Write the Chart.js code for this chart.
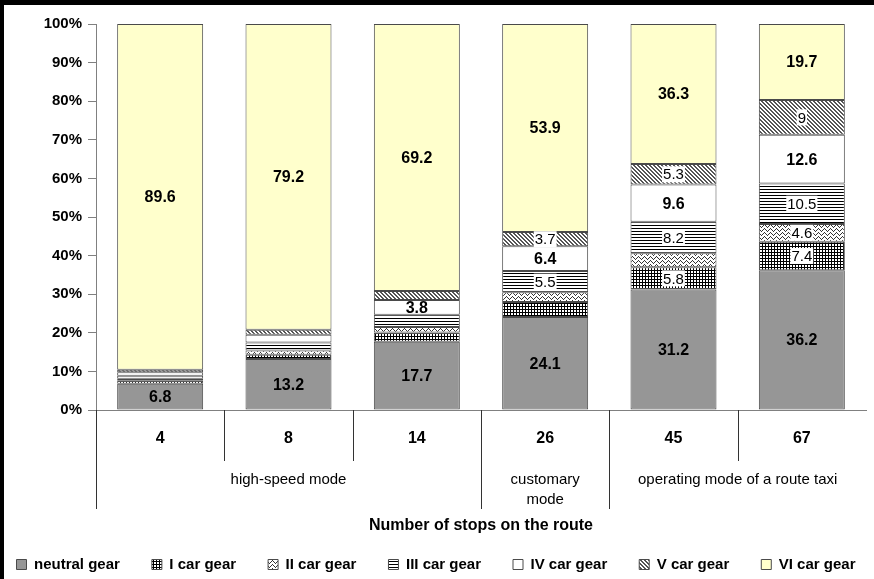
<!DOCTYPE html>
<html>
<head>
<meta charset="utf-8">
<script src="https://cdn.jsdelivr.net/npm/chart.js@4.4.1/dist/chart.umd.min.js"></script>
<style>
html, body { margin: 0; padding: 0; background: #fff; }
#wrap { position: relative; width: 874px; height: 579px; }
#frame { position: absolute; left: 0; top: 0; right: 0; bottom: 0; border-left: 4px solid #000; border-top: 5px solid #000; pointer-events: none; }
</style>
</head>
<body>
<div id="wrap"><canvas id="myChart" width="874" height="579"></canvas><div id="frame"></div></div>
<script>
// categories
let stops = ['4', '8', '14', '26', '45', '67'];
let groupNames = ['high-speed mode', ['customary', 'mode'], 'operating mode of a route taxi'];
let groupStarts = [0, 3, 4];
let groupEnds = [2, 3, 5];

// shares of time in each gear, %
let neutralGear = [6.8, 13.2, 17.7, 24.1, 31.2, 36.2];
let gearI = [0.8, 1.1, 2.4, 3.9, 5.8, 7.4];
let gearII = [0.5, 1.1, 1.4, 2.5, 3.6, 4.6];
let gearIII = [0.8, 2.1, 3.2, 5.5, 8.2, 10.5];
let gearIV = [0.9, 2.0, 3.8, 6.4, 9.6, 12.6];
let gearV = [0.6, 1.3, 2.3, 3.7, 5.3, 9];
let gearVI = [89.6, 79.2, 69.2, 53.9, 36.3, 19.7];

// which values carry a label on the bar
let labelNeutral = [1, 1, 1, 1, 1, 1];
let labelI = [0, 0, 0, 0, 1, 1];
let labelII = [0, 0, 0, 0, 0, 1];
let labelIII = [0, 0, 0, 1, 1, 1];
let labelIV = [0, 0, 1, 1, 1, 1];
let labelV = [0, 0, 0, 1, 1, 1];
let labelVI = [1, 1, 1, 1, 1, 1];

let myChart = document.getElementById('myChart').getContext('2d');

const narrow = "'Liberation Sans Narrow', 'Liberation Sans', Arial, sans-serif";
const arial = "'Liberation Sans', Arial, sans-serif";

function makePattern(w, h, color, draw) {
    const c = document.createElement('canvas');
    c.width = w;
    c.height = h;
    const g = c.getContext('2d');
    g.fillStyle = '#fff';
    g.fillRect(0, 0, w, h);
    g.fillStyle = color;
    draw(g);
    return myChart.createPattern(c, 'repeat');
}

const gridPattern = makePattern(3, 3, '#000', g => {
    g.fillRect(0, 0, 3, 1);
    g.fillRect(0, 0, 1, 3);
});
const zigzagPattern = makePattern(6, 4, '#333', g => {
    [[0, 2], [1, 1], [2, 0], [3, 1], [4, 2], [5, 3]].forEach(p => g.fillRect(p[0], p[1], 1, 1));
});
const linesPattern = makePattern(1, 3, '#000', g => {
    g.fillRect(0, 0, 1, 1);
});
const diagPattern = makePattern(4, 4, '#555', g => {
    for (let i = 0; i < 4; i++) {
        g.fillRect(i, i, 1, 1);
        g.fillRect((i + 1) % 4, i, 1, 1);
    }
});

function series(label, data, fill, labels, bold) {
    return {
        label: label,
        data: data,
        backgroundColor: fill,
        borderColor: '#4a4a4a',
        borderWidth: 1,
        borderSkipped: false,
        showLabel: labels,
        boldLabel: bold
    };
}

// value labels in the middle of each segment
const barLabels = {
    id: 'barLabels',
    afterDatasetsDraw(chart) {
        const ctx = chart.ctx;
        ctx.save();
        ctx.textAlign = 'center';
        ctx.textBaseline = 'middle';
        chart.data.datasets.forEach((ds, di) => {
            const meta = chart.getDatasetMeta(di);
            meta.data.forEach((bar, i) => {
                if (!ds.showLabel[i]) return;
                const text = String(ds.data[i]);
                const y = (bar.y + bar.base) / 2;
                if (ds.boldLabel) {
                    ctx.font = 'bold 16px ' + arial;
                } else {
                    ctx.font = '15px ' + arial;
                    const w = ctx.measureText(text).width;
                    ctx.fillStyle = '#fff';
                    ctx.fillRect(bar.x - w / 2 - 1, y - 8, w + 2, 16);
                }
                ctx.fillStyle = '#000';
                ctx.fillText(text, bar.x, y + 1);
            });
        });
        ctx.restore();
    }
};

// category separators and the mode groups under the stop numbers
const groupAxis = {
    id: 'groupAxis',
    afterDraw(chart) {
        const ctx = chart.ctx;
        const x = chart.scales.x;
        const bottom = chart.chartArea.bottom;
        const half = (x.getPixelForValue(1) - x.getPixelForValue(0)) / 2;
        ctx.save();
        ctx.strokeStyle = '#333';
        ctx.lineWidth = 1;
        for (let i = 0; i < stops.length; i++) {
            const left = Math.round(x.getPixelForValue(i) - half) + 0.5;
            const deep = groupStarts.includes(i);
            ctx.beginPath();
            ctx.moveTo(left, bottom);
            ctx.lineTo(left, bottom + (deep ? 99 : 51));
            ctx.stroke();
        }
        ctx.fillStyle = '#000';
        ctx.font = '15px ' + narrow;
        ctx.textAlign = 'center';
        ctx.textBaseline = 'middle';
        groupNames.forEach((name, k) => {
            const cx = (x.getPixelForValue(groupStarts[k]) + x.getPixelForValue(groupEnds[k])) / 2;
            const lines = Array.isArray(name) ? name : [name];
            lines.forEach((t, j) => ctx.fillText(t, cx, bottom + 70 + j * 20));
        });
        ctx.restore();
    }
};

new Chart(myChart, {
    type: 'bar',
    data: {
        labels: stops,
        datasets: [
            series('neutral gear', neutralGear, '#969696', labelNeutral, true),
            series('I car gear', gearI, gridPattern, labelI, false),
            series('II car gear', gearII, zigzagPattern, labelII, false),
            series('III car gear', gearIII, linesPattern, labelIII, false),
            series('IV car gear', gearIV, '#ffffff', labelIV, true),
            series('V car gear', gearV, diagPattern, labelV, false),
            series('VI car gear', gearVI, '#ffffcc', labelVI, true)
        ]
    },
    options: {
        responsive: false,
        animation: false,
        layout: { padding: { left: 6, right: 8, top: 24, bottom: -3 } },
        datasets: { bar: { categoryPercentage: 1, barPercentage: 0.67 } },
        scales: {
            x: {
                stacked: true,
                grid: { display: false, drawTicks: false },
                border: { display: true, color: '#808080' },
                ticks: { color: '#000', padding: 19, font: { family: narrow, size: 16, weight: 'bold' } },
                title: {
                    display: true,
                    text: 'Number of stops on the route',
                    color: '#000',
                    font: { family: narrow, size: 16, weight: 'bold' },
                    padding: { top: 0, bottom: 15 }
                },
                afterFit: function (scale) { scale.height = 140; }
            },
            y: {
                stacked: true,
                min: 0,
                max: 100,
                grid: { drawOnChartArea: false, drawTicks: true, tickLength: 8, color: '#808080' },
                border: { display: true, color: '#808080' },
                ticks: {
                    stepSize: 10,
                    color: '#000',
                    padding: 6,
                    font: { family: arial, size: 15, weight: 'bold' },
                    callback: function (v) { return v + '%'; }
                },
                afterFit: function (scale) { scale.width = 90; }
            }
        },
        plugins: {
            legend: {
                position: 'bottom',
                labels: {
                    color: '#000',
                    boxWidth: 10,
                    boxHeight: 10,
                    padding: 7,
                    font: { family: narrow, size: 15, weight: 'bold' },
                    generateLabels: function (chart) {
                        const items = Chart.defaults.plugins.legend.labels.generateLabels(chart);
                        // wider gaps between legend entries, as in the original
                        items.forEach((it, k) => {
                            if (k < items.length - 1) it.text = it.text + '      ';
                        });
                        return items;
                    }
                }
            },
            tooltip: { enabled: false }
        }
    },
    plugins: [barLabels, groupAxis]
});
</script>
</body>
</html>
